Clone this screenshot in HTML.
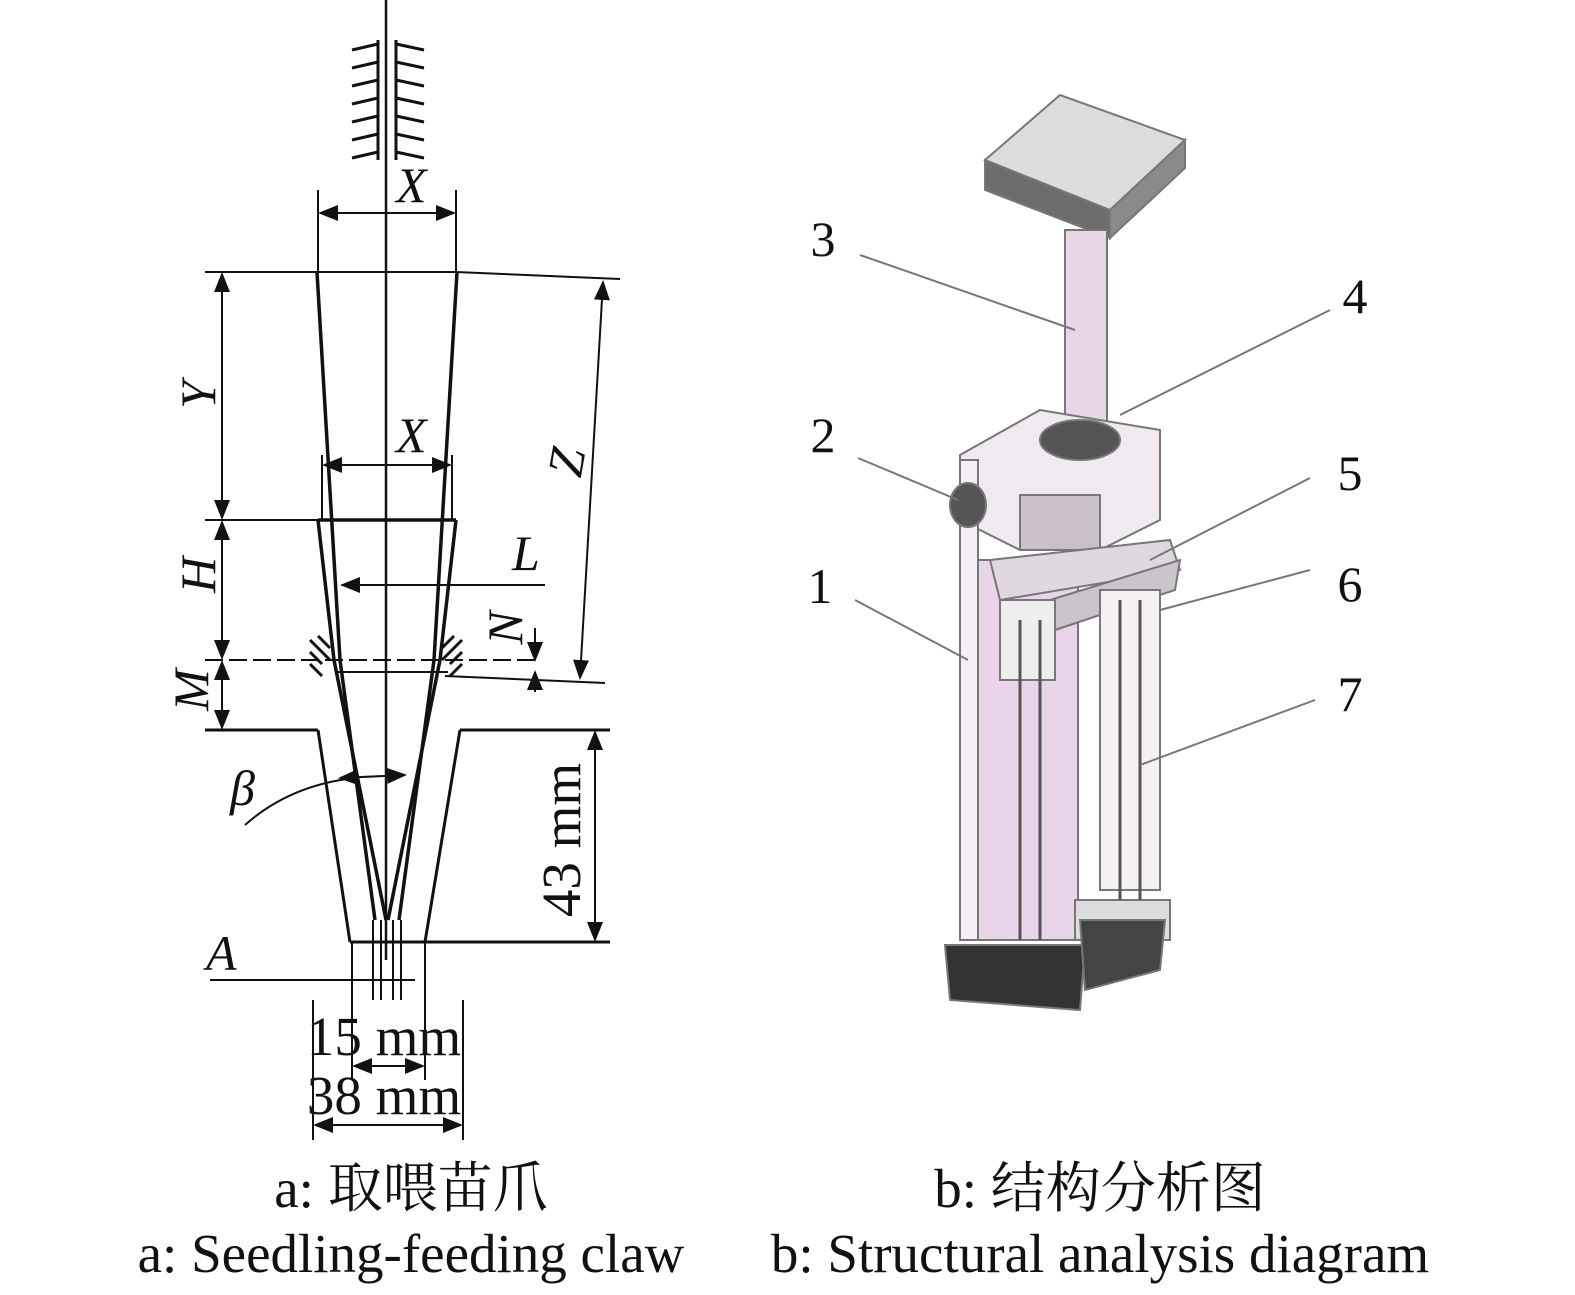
<!DOCTYPE html>
<html><head><meta charset="utf-8"><style>
html,body{margin:0;padding:0;background:#fff;}
svg{display:block;}
text{font-family:"Liberation Serif","Noto Serif CJK SC",serif;fill:#111;}
</style></head><body>
<svg width="1575" height="1295" viewBox="0 0 1575 1295" xmlns="http://www.w3.org/2000/svg">
<defs>
<marker id="ar" markerWidth="10" markerHeight="8" refX="9" refY="4" orient="auto-start-reverse"><path d="M0,0 L10,4 L0,8 z" fill="#111"/></marker>
</defs>
<g stroke="#111" fill="none" stroke-width="2">
<line x1="386" y1="0" x2="386" y2="960" stroke-width="2.5"/>
<line x1="378" y1="40" x2="378" y2="160" stroke-width="3"/>
<line x1="396" y1="40" x2="396" y2="160" stroke-width="3"/>
<g stroke-width="3">
<line x1="352" y1="50" x2="378" y2="44"/><line x1="352" y1="68" x2="378" y2="62"/><line x1="352" y1="86" x2="378" y2="80"/><line x1="352" y1="104" x2="378" y2="98"/><line x1="352" y1="122" x2="378" y2="116"/><line x1="352" y1="140" x2="378" y2="134"/><line x1="352" y1="158" x2="378" y2="152"/>
<line x1="396" y1="44" x2="424" y2="50"/><line x1="396" y1="62" x2="424" y2="68"/><line x1="396" y1="80" x2="424" y2="86"/><line x1="396" y1="98" x2="424" y2="104"/><line x1="396" y1="116" x2="424" y2="122"/><line x1="396" y1="134" x2="424" y2="140"/><line x1="396" y1="152" x2="424" y2="158"/>
</g>
<line x1="318" y1="190" x2="318" y2="272"/><line x1="456" y1="190" x2="456" y2="272"/>
<line x1="320" y1="213" x2="454" y2="213" marker-start="url(#ar)" marker-end="url(#ar)"/>
<line x1="205" y1="272" x2="456" y2="272"/>
<line x1="456" y1="272" x2="620" y2="279"/>
<g stroke-width="3.5">
<line x1="317" y1="272" x2="340" y2="660"/>
<line x1="340" y1="660" x2="375" y2="920"/>
<line x1="457" y1="272" x2="434" y2="660"/>
<line x1="434" y1="660" x2="399" y2="920"/>
<line x1="318" y1="520" x2="334" y2="660"/>
<line x1="334" y1="660" x2="386" y2="920"/>
<line x1="456" y1="520" x2="440" y2="660"/>
<line x1="440" y1="660" x2="388" y2="920"/>
<line x1="318" y1="520" x2="456" y2="520"/>
</g>
<line x1="322" y1="455" x2="322" y2="520"/><line x1="452" y1="455" x2="452" y2="520"/>
<line x1="324" y1="465" x2="450" y2="465" marker-start="url(#ar)" marker-end="url(#ar)"/>
<line x1="205" y1="520" x2="318" y2="520"/>
<line x1="205" y1="660" x2="540" y2="660" stroke-dasharray="18,6"/>
<line x1="222" y1="274" x2="222" y2="518" marker-start="url(#ar)" marker-end="url(#ar)"/>
<line x1="222" y1="522" x2="222" y2="658" marker-start="url(#ar)" marker-end="url(#ar)"/>
<line x1="222" y1="662" x2="222" y2="728" marker-start="url(#ar)" marker-end="url(#ar)"/>
<line x1="342" y1="585" x2="545" y2="585" marker-start="url(#ar)"/>
<line x1="338" y1="672" x2="448" y2="672"/>
<line x1="603" y1="282" x2="580" y2="678" marker-start="url(#ar)" marker-end="url(#ar)"/>
<line x1="445" y1="676" x2="605" y2="683"/>
<line x1="535" y1="628" x2="535" y2="660" marker-end="url(#ar)"/>
<line x1="535" y1="692" x2="535" y2="672" marker-end="url(#ar)"/>
<line x1="205" y1="730" x2="318" y2="730" stroke-width="3"/>
<line x1="460" y1="730" x2="610" y2="730" stroke-width="3"/>
<line x1="318" y1="730" x2="350" y2="942" stroke-width="3"/>
<line x1="460" y1="730" x2="425" y2="942" stroke-width="3"/>
<line x1="350" y1="942" x2="610" y2="942" stroke-width="3"/>
<line x1="595" y1="732" x2="595" y2="940" marker-start="url(#ar)" marker-end="url(#ar)"/>
<path d="M245,825 Q290,785 355,778"/>
<line x1="340" y1="778" x2="405" y2="775" marker-start="url(#ar)" marker-end="url(#ar)"/>
<line x1="210" y1="980" x2="415" y2="980"/>
<line x1="373" y1="920" x2="373" y2="1000"/><line x1="381" y1="920" x2="381" y2="1000"/><line x1="393" y1="920" x2="393" y2="1000"/><line x1="401" y1="920" x2="401" y2="1000"/>
<line x1="352" y1="942" x2="352" y2="1080"/><line x1="425" y1="942" x2="425" y2="1080"/>
<line x1="354" y1="1066" x2="423" y2="1066" marker-start="url(#ar)" marker-end="url(#ar)"/>
<line x1="313" y1="1000" x2="313" y2="1140"/><line x1="463" y1="1000" x2="463" y2="1140"/>
<line x1="315" y1="1125" x2="461" y2="1125" marker-start="url(#ar)" marker-end="url(#ar)"/>
</g>
<g stroke="#111" stroke-width="3">
<path d="M310,640 l12,12 M310,652 l12,12 M310,664 l12,12 M318,636 l12,12 M318,648 l12,12"/>
<path d="M462,640 l-12,12 M462,652 l-12,12 M462,664 l-12,12 M454,636 l-12,12 M454,648 l-12,12"/>
</g>
<g font-style="italic" font-size="50">
<text x="396" y="202">X</text>
<text x="396" y="452">X</text>
<text x="512" y="570">L</text>
<text transform="translate(215,395) rotate(-90)" text-anchor="middle">Y</text>
<text transform="translate(215,575) rotate(-90)" text-anchor="middle">H</text>
<text transform="translate(208,690) rotate(-90)" text-anchor="middle">M</text>
<text transform="translate(583,465) rotate(-80)" text-anchor="middle">Z</text>
<text transform="translate(522,628) rotate(-90)" text-anchor="middle">N</text>
<text x="230" y="805">β</text>
<text x="206" y="970">A</text>
</g>
<g font-size="55">
<text transform="translate(580,840) rotate(-90)" text-anchor="middle">43 mm</text>
<text x="384" y="1055" text-anchor="middle">15 mm</text>
<text x="384" y="1114" text-anchor="middle">38 mm</text>
<text x="411" y="1207" text-anchor="middle">a: 取喂苗爪</text>
<text x="411" y="1272" text-anchor="middle">a: Seedling-feeding claw</text>
<text x="1100" y="1207" text-anchor="middle">b: 结构分析图</text>
<text x="1100" y="1272" text-anchor="middle">b: Structural analysis diagram</text>
</g>
<g font-size="50">
<text x="823" y="256" text-anchor="middle">3</text>
<text x="1355" y="313" text-anchor="middle">4</text>
<text x="823" y="452" text-anchor="middle">2</text>
<text x="1350" y="490" text-anchor="middle">5</text>
<text x="820" y="603" text-anchor="middle">1</text>
<text x="1350" y="601" text-anchor="middle">6</text>
<text x="1350" y="711" text-anchor="middle">7</text>
</g>
<g stroke="#777" stroke-width="2">
<polygon points="985,160 1060,95 1185,140 1110,210" fill="#dcdcdc"/>
<polygon points="985,160 1110,210 1110,238 985,190" fill="#6d6d6d"/>
<polygon points="1110,210 1185,140 1185,168 1110,238" fill="#8a8a8a"/>
<rect x="1065" y="230" width="42" height="200" fill="#e6d6e6"/>
<polygon points="960,455 1040,410 1160,430 1160,520 1100,550 1020,550 960,520" fill="#f0eaf0"/>
<ellipse cx="1080" cy="440" rx="40" ry="20" fill="#555"/>
<rect x="1020" y="495" width="80" height="55" fill="#c9c0c9"/>
<rect x="960" y="460" width="18" height="480" fill="#f4eef4"/>
<rect x="978" y="560" width="100" height="380" fill="#e9d4e9"/>
<polygon points="990,560 1170,540 1180,570 1000,600" fill="#e0d8e0"/>
<polygon points="1050,600 1180,560 1175,590 1055,630" fill="#ccc4cc"/>
<rect x="1000" y="600" width="55" height="80" fill="#eee"/>
<rect x="1100" y="590" width="60" height="300" fill="#f4f0f4"/>
<polygon points="1075,900 1170,900 1170,940 1075,940" fill="#ddd"/>
<polygon points="945,945 1085,945 1080,1010 950,1000" fill="#333"/>
<polygon points="1080,920 1165,920 1160,970 1085,990" fill="#444"/>
<ellipse cx="968" cy="505" rx="18" ry="22" fill="#555"/>
</g>
<g stroke="#555" stroke-width="3">
<line x1="1020" y1="620" x2="1020" y2="940"/><line x1="1040" y1="620" x2="1040" y2="940"/>
<line x1="1120" y1="600" x2="1120" y2="900"/><line x1="1140" y1="600" x2="1140" y2="900"/>
</g>
<g stroke="#777" stroke-width="2">
<line x1="860" y1="255" x2="1075" y2="330"/>
<line x1="1330" y1="310" x2="1120" y2="415"/>
<line x1="858" y1="458" x2="958" y2="500"/>
<line x1="1310" y1="478" x2="1150" y2="560"/>
<line x1="855" y1="600" x2="968" y2="660"/>
<line x1="1310" y1="570" x2="1160" y2="610"/>
<line x1="1315" y1="700" x2="1140" y2="765"/>
</g>
</svg>
</body></html>
